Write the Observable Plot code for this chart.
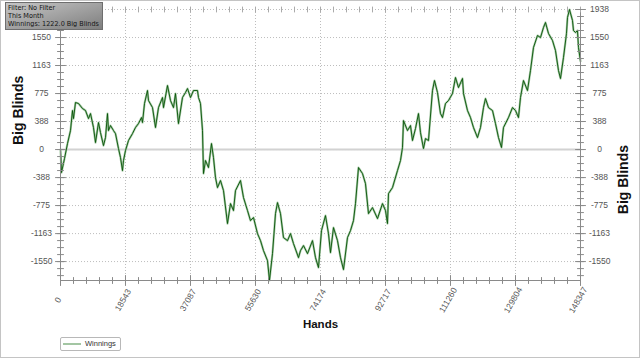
<!DOCTYPE html>
<html>
<head>
<meta charset="utf-8">
<script src="https://cdn.jsdelivr.net/npm/d3@7"></script>
<script src="https://cdn.jsdelivr.net/npm/@observablehq/plot@0.6"></script>
<style>
  html, body { margin: 0; padding: 0; background: #fff; }
  #wrap { position: relative; width: 640px; height: 358px; overflow: hidden; font-family: "Liberation Sans", Arial, sans-serif; }
  #frame { position: absolute; left: 0; top: 0; width: 638px; height: 356px; border: 1px solid #c4c4c4; pointer-events: none; }
  #info { position: absolute; left: 5px; top: 2px; width: 96px; height: 26px;
          border: 1px solid #6e6e6e; background: linear-gradient(to bottom right, #c6c6c6, #7e7e7e); overflow: hidden; }
  #info .txt { position: absolute; left: 2px; top: 0; width: 150px; transform: scale(0.65); transform-origin: 0 0;
          font-family: "DejaVu Sans", Verdana, sans-serif; font-size: 10px; color: #151515; white-space: nowrap; }
  #info .txt div { height: 13.2px; line-height: 13.2px; }
  #legend { position: absolute; left: 60px; top: 337px; width: 59px; height: 12px; border: 1px solid #b8b8b8; border-radius: 2px; background: #fff;
            font-size: 7.5px; color: #333; }
  #legend .sw { position: absolute; left: 2px; top: 5px; width: 18px; height: 2px; background: #a3c6a3; }
  #legend .lb { position: absolute; left: 24px; top: 1px; }
</style>
</head>
<body>
<div id="wrap"></div>
<script>
// ---- data ----
const hands = [0,285,1141,1997,2853,3423,3709,4279,5135,6276,7132,7988,8558,9414,9985,10841,11411,12267,12838,13408,13693,14264,15120,15690,16546,17117,17687,17973,18543,19399,20540,21396,22252,23108,23393,23964,24819,25105,26246,27102,27957,29099,29384,30525,31381,32237,32807,33663,34804,35660,36231,37086,37942,39083,39369,39939,40510,40795,41366,42221,43077,43648,44218,44789,45645,46501,47642,48498,49353,49924,51350,52206,53347,54203,55059,56200,57056,57912,59053,59623,60479,61335,61906,62762,63617,64759,65614,66470,67897,68467,69323,70464,71891,72746,73602,74458,75599,76455,77026,77882,79023,79878,80734,81875,82731,83587,84158,85013,86155,87010,87866,89007,90434,91860,92716,93287,93572,94713,96139,96995,97566,97851,98992,99848,100419,101274,102130,102701,103557,104127,104983,106124,106695,107551,108406,108977,109833,110689,111830,112686,113542,114683,114968,116109,116965,117821,118962,119818,120674,121244,122100,123241,124097,124953,125809,126379,127806,128947,129802,130658,131229,132085,133226,134082,134937,136078,136934,137790,138361,139217,140358,141214,142069,142640,143496,144352,144637,145208,146064,146349,146920,147490,147776,148347];
const winnings = [0,-318,-125,83,263,540,429,651,637,568,540,429,498,305,97,374,235,55,166,498,263,332,263,221,14,-111,-291,-152,-14,125,221,305,360,443,374,637,817,678,581,305,581,720,581,886,678,581,775,360,720,789,844,720,817,817,720,637,263,-332,-152,-249,83,-111,-388,-526,-429,-568,-1024,-748,-844,-568,-429,-664,-844,-983,-941,-1163,-1260,-1398,-1536,-1812,-1440,-886,-734,-886,-1218,-1260,-1163,-1301,-1495,-1398,-1329,-1440,-1260,-1495,-1633,-1121,-914,-1163,-1426,-1080,-1260,-1495,-1661,-1218,-1121,-983,-748,-249,-332,-471,-886,-803,-955,-748,-844,-1024,-609,-526,-291,-152,28,401,263,332,125,291,498,235,14,152,125,817,955,789,498,443,637,678,775,997,858,983,775,540,443,305,166,305,581,706,581,540,360,166,28,305,443,581,540,443,720,955,817,1094,1412,1578,1550,1689,1758,1606,1509,1370,1094,983,1274,1606,1827,1938,1786,1647,1620,1647,1412,1222];
const xTicks = [0,18543,37087,55630,74174,92717,111260,129804,148347];
const yTicks = [-1550,-1163,-775,-388,0,388,775,1163,1550,1938];
const yMin = -1812, yMax = 1938;
const infoLines = ["Filter: No Filter", "This Month", "Winnings: 1222.0 Big Blinds"];
const seriesName = "Winnings";
const xTitle = "Hands", yTitle = "Big Blinds";

// ---- build ----
const data = hands.map((h, i) => ({hands: h, bb: winnings[i]}));
const xStep = 148347 / 8 / 5, yStep = 1938 / 5 / 4;
const xMinor = d3.range(0, 148347 + 1, xStep);
const yMinor = d3.range(0, yMin - 1, -yStep).concat(d3.range(yStep, yMax + 1, yStep));
const axisColor = "#8a8a8a";
const labelColor = "#555";
const tickShape = {draw(context, l) { context.moveTo(0, 0); context.lineTo(0, -l); }};

const chart = Plot.plot({
  width: 640, height: 358,
  marginLeft: 60, marginRight: 60, marginTop: 9, marginBottom: 78,
  style: {background: "transparent", fontFamily: "'Liberation Sans', Arial, sans-serif"},
  x: {domain: [0, 148347], axis: null},
  y: {domain: [yMin, yMax], axis: null},
  marks: [
    Plot.gridX(xTicks, {stroke: "#bdbdbd", strokeOpacity: 1, strokeDasharray: "1,2"}),
    Plot.gridY(yTicks, {stroke: "#bdbdbd", strokeOpacity: 1, strokeDasharray: "1,2"}),
    Plot.ruleY([0], {stroke: "#d2d2d2", strokeWidth: 2}),
    Plot.line(data, {x: "hands", y: "bb", stroke: "#a9caa9", strokeWidth: 2.2}),
    Plot.line(data, {x: "hands", y: "bb", stroke: "#055205", strokeWidth: 0.9}),
    // axis lines
    Plot.ruleX([0, 148347], {stroke: axisColor}),
    Plot.ruleY([yMin], {stroke: axisColor}),
    // tick marks
    Plot.vector(xMinor, {x: d => d, frameAnchor: "bottom", length: 6, anchor: "middle", shape: tickShape, stroke: axisColor, strokeWidth: 1}),
    Plot.vector(xTicks, {x: d => d, frameAnchor: "bottom", length: 10, anchor: "middle", shape: tickShape, stroke: axisColor, strokeWidth: 1}),
    Plot.vector(xMinor, {x: d => d, frameAnchor: "top", length: 5, anchor: "middle", shape: tickShape, stroke: "#aaa", strokeWidth: 1}),
    Plot.vector(yMinor, {y: d => d, frameAnchor: "left", rotate: 90, length: 6, anchor: "middle", shape: tickShape, stroke: axisColor, strokeWidth: 1}),
    Plot.vector(yTicks, {y: d => d, frameAnchor: "left", rotate: 90, length: 10, anchor: "middle", shape: tickShape, stroke: axisColor, strokeWidth: 1}),
    Plot.vector(yMinor, {y: d => d, frameAnchor: "right", rotate: 90, length: 6, anchor: "middle", shape: tickShape, stroke: axisColor, strokeWidth: 1}),
    Plot.vector(yTicks, {y: d => d, frameAnchor: "right", rotate: 90, length: 10, anchor: "middle", shape: tickShape, stroke: axisColor, strokeWidth: 1}),
    // tick labels
    Plot.text(yTicks, {y: d => d, text: d => String(d), frameAnchor: "left", dx: -19, textAnchor: "middle", fill: labelColor, fontSize: 8.5}),
    Plot.text(yTicks, {y: d => d, text: d => String(d), frameAnchor: "right", dx: 19, textAnchor: "middle", fill: labelColor, fontSize: 8.5}),
    Plot.text(xTicks, {x: d => d, text: d => String(d), frameAnchor: "bottom", dy: 21, rotate: -60, textAnchor: "middle", fill: labelColor, fontSize: 8.5}),
    // axis titles
    Plot.text([yTitle], {text: d => d, frameAnchor: "left", dx: -42, rotate: -90, fontSize: 14, fontWeight: "bold", fill: "#111"}),
    Plot.text([yTitle], {text: d => d, frameAnchor: "right", dx: 43, rotate: -90, fontSize: 14, fontWeight: "bold", fill: "#111"}),
    Plot.text([xTitle], {text: d => d, frameAnchor: "bottom", dy: 47, fontSize: 11.5, fontWeight: "bold", fill: "#111"})
  ]
});

const wrap = document.getElementById("wrap");
chart.style.position = "absolute";
chart.style.left = "0px";
chart.style.top = "0px";
wrap.appendChild(chart);

const info = document.createElement("div");
info.id = "info";
info.innerHTML = `<div class="txt">${infoLines.map(s => `<div>${s}</div>`).join("")}</div>`;
wrap.appendChild(info);

const legend = document.createElement("div");
legend.id = "legend";
legend.innerHTML = `<div class="sw"></div><div class="lb">${seriesName}</div>`;
wrap.appendChild(legend);

const frame = document.createElement("div");
frame.id = "frame";
wrap.appendChild(frame);
</script>
</body>
</html>
